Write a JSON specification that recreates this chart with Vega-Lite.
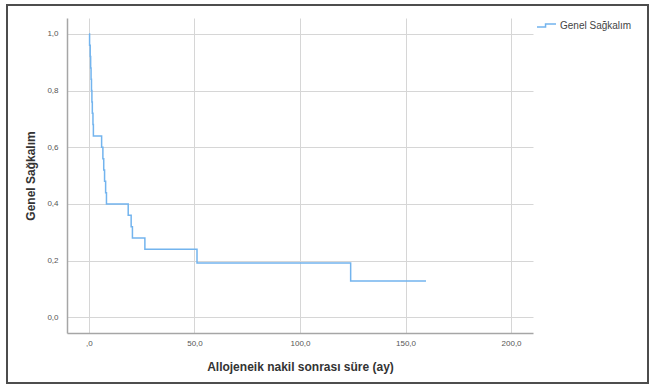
{
  "$schema": "https://vega.github.io/schema/vega-lite/v6.json",
  "width": 466,
  "height": 315,
  "autosize": {"type": "none"},
  "padding": {"left": 67, "top": 18, "right": 119, "bottom": 55},
  "background": "white",
  "config": {
    "font": "Liberation Sans",
    "view": {"stroke": null},
    "locale": {"number": {"decimal": ",", "thousands": ".", "grouping": [3], "currency": ["", ""]}}
  },
  "data": {
    "values": [
      {"seri": "Genel Sağkalım", "ay": 0.0, "sagkalim": 1.0},
      {"seri": "Genel Sağkalım", "ay": 0.3, "sagkalim": 0.96},
      {"seri": "Genel Sağkalım", "ay": 0.6, "sagkalim": 0.92},
      {"seri": "Genel Sağkalım", "ay": 0.8, "sagkalim": 0.88},
      {"seri": "Genel Sağkalım", "ay": 1.0, "sagkalim": 0.84},
      {"seri": "Genel Sağkalım", "ay": 1.2, "sagkalim": 0.80},
      {"seri": "Genel Sağkalım", "ay": 1.4, "sagkalim": 0.76},
      {"seri": "Genel Sağkalım", "ay": 1.6, "sagkalim": 0.72},
      {"seri": "Genel Sağkalım", "ay": 1.9, "sagkalim": 0.68},
      {"seri": "Genel Sağkalım", "ay": 2.1, "sagkalim": 0.64},
      {"seri": "Genel Sağkalım", "ay": 6.0, "sagkalim": 0.60},
      {"seri": "Genel Sağkalım", "ay": 6.6, "sagkalim": 0.56},
      {"seri": "Genel Sağkalım", "ay": 7.0, "sagkalim": 0.52},
      {"seri": "Genel Sağkalım", "ay": 7.4, "sagkalim": 0.48},
      {"seri": "Genel Sağkalım", "ay": 7.9, "sagkalim": 0.44},
      {"seri": "Genel Sağkalım", "ay": 8.3, "sagkalim": 0.40},
      {"seri": "Genel Sağkalım", "ay": 18.6, "sagkalim": 0.36},
      {"seri": "Genel Sağkalım", "ay": 20.0, "sagkalim": 0.32},
      {"seri": "Genel Sağkalım", "ay": 20.6, "sagkalim": 0.28},
      {"seri": "Genel Sağkalım", "ay": 26.5, "sagkalim": 0.24},
      {"seri": "Genel Sağkalım", "ay": 51.2, "sagkalim": 0.192},
      {"seri": "Genel Sağkalım", "ay": 124.0, "sagkalim": 0.128},
      {"seri": "Genel Sağkalım", "ay": 159.7, "sagkalim": 0.128}
    ]
  },
  "layer": [
    {
      "mark": {"type": "line", "interpolate": "step-after", "strokeWidth": 1.5, "clip": false},
      "encoding": {
        "x": {
          "field": "ay",
          "type": "quantitative",
          "scale": {"domain": [-10.4, 210.4], "nice": false, "zero": false},
          "axis": {
            "values": [0, 50, 100, 150, 200],
            "format": ".1f",
            "labelExpr": "datum.value === 0 ? ',0' : datum.label",
            "title": "Allojeneik nakil sonrası süre (ay)",
            "titleFontSize": 12,
            "titleFontWeight": "bold",
            "titleColor": "#333333",
            "titleBaseline": "middle",
            "titleY": 33,
            "labelFontSize": 8,
            "labelColor": "#555555",
            "labelPadding": 6,
            "tickSize": 0,
            "domainColor": "#a6a6a6",
            "domainWidth": 1.5,
            "grid": true,
            "gridColor": "#d6d6d6",
            "gridWidth": 1
          }
        },
        "y": {
          "field": "sagkalim",
          "type": "quantitative",
          "scale": {"domain": [-0.055, 1.056], "nice": false, "zero": false},
          "axis": {
            "values": [0, 0.2, 0.4, 0.6, 0.8, 1.0],
            "format": ".1f",
            "title": "Genel Sağkalım",
            "titleFontSize": 12,
            "titleFontWeight": "bold",
            "titleColor": "#333333",
            "titleBaseline": "middle",
            "titleX": -37,
            "labelFontSize": 8,
            "labelColor": "#555555",
            "labelPadding": 9,
            "tickSize": 0,
            "domainColor": "#a6a6a6",
            "domainWidth": 1.5,
            "grid": true,
            "gridColor": "#d6d6d6",
            "gridWidth": 1
          }
        },
        "color": {
          "field": "seri",
          "type": "nominal",
          "scale": {"domain": ["Genel Sağkalım"], "range": ["#73b4ee"]},
          "legend": {
            "title": null,
            "orient": "none",
            "legendX": 469,
            "legendY": -3,
            "symbolType": "M-1,0.16H-0.1V-0.16H1",
            "symbolSize": 361,
            "symbolStrokeWidth": 1.5,
            "symbolFillColor": "transparent",
            "labelFontSize": 10,
            "labelColor": "#444444",
            "labelOffset": 3
          }
        }
      }
    },
    {
      "mark": {"type": "rect", "fill": null, "stroke": "#4d4d4d", "strokeWidth": 1.5, "clip": false},
      "encoding": {
        "x": {"datum": -38.9, "type": "quantitative"},
        "x2": {"datum": 264.9},
        "y": {"datum": 1.102, "type": "quantitative"},
        "y2": {"datum": -0.231}
      }
    }
  ]
}
